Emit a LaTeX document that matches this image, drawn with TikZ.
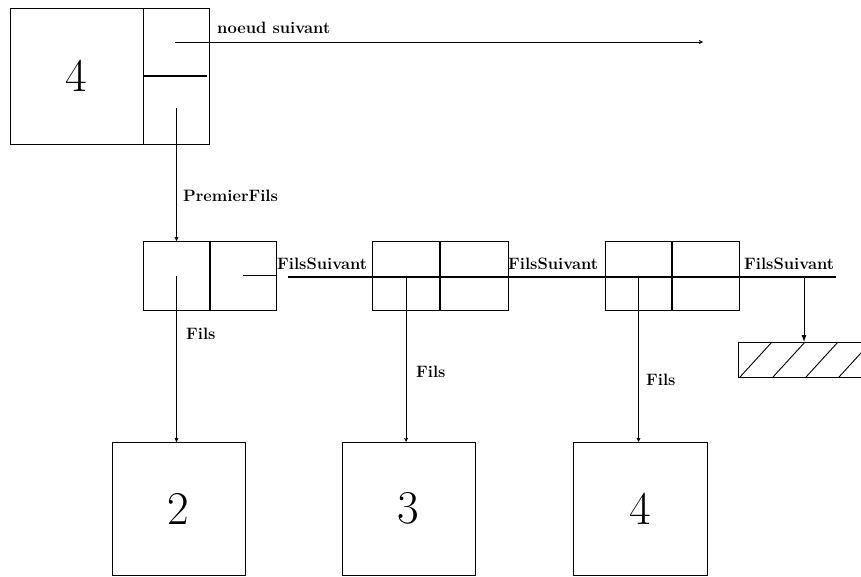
\documentclass[tikz,border=0pt]{standalone}
\usepackage{fontspec}
\usetikzlibrary{arrows.meta}
\tikzset{
  box/.style={draw, line width=0.9pt, inner sep=0pt, outer sep=0pt, anchor=north west},
  bignum/.style={font=\fontsize{47}{50}\selectfont},
  lbl/.style={font=\fontsize{16.5}{18}\selectfont\bfseries, inner sep=0pt, anchor=west},
  conn/.style={line width=0.9pt},
  smallarr/.style={conn, -{Straight Barb[length=3pt,width=3pt]}},
  bigarr/.style={conn, -{Latex[length=7pt,width=5pt]}},
  divider/.style={line width=1.7pt},
}
\begin{document}
\begin{tikzpicture}[x=1pt,y=-1pt]
\useasboundingbox (0,0) rectangle (861,576);
% head node
\node[box, minimum width=133pt, minimum height=136pt, bignum] (headval) at (10,8) {4};
\node[box, minimum width=66pt, minimum height=136pt] (headptr) at (143,8) {};
\draw[line width=2pt] (headptr.west) -- ([xshift=-2pt]headptr.east);
% child list cells
\node[box, minimum width=67pt, minimum height=69pt] (c1a) at (143,241) {};
\node[box, minimum width=66pt, minimum height=69pt] (c1b) at (210,241) {};
\draw[divider] (c1a.north east) -- (c1a.south east);
\node[box, minimum width=68pt, minimum height=69pt] (c2a) at (372,241) {};
\node[box, minimum width=68pt, minimum height=69pt] (c2b) at (440,241) {};
\draw[divider] (c2a.north east) -- (c2a.south east);
\node[box, minimum width=67pt, minimum height=69pt] (c3a) at (605,241) {};
\node[box, minimum width=67pt, minimum height=69pt] (c3b) at (672,241) {};
\draw[divider] (c3a.north east) -- (c3a.south east);
% value boxes
\node[box, minimum width=133pt, minimum height=133pt, bignum] (v2) at (112,442) {2};
\node[box, minimum width=133pt, minimum height=133pt, bignum] (v3) at (342,442) {3};
\node[box, minimum width=134pt, minimum height=133pt, bignum] (v4) at (573,442) {4};
% nil (hatched) box
\node[inner sep=0pt, outer sep=0pt, anchor=north west, minimum width=132pt, minimum height=35pt] (nil) at (738,342) {};
\draw[line width=0.9pt] (nil.north east) -- (nil.north west) -- (nil.south west) -- (nil.south east);
\begin{scope}
  \clip (nil.north west) rectangle (nil.south east);
  \foreach \k in {0,1,2,3} {
    \draw[line width=0.9pt] ([xshift={2pt+33pt*\k}]nil.south west) -- ([xshift={34pt+33pt*\k}]nil.north west);
  }
\end{scope}
% noeud suivant
\coordinate (nsS) at (175,42);
\coordinate (nsE) at (703,42);
\draw[smallarr] (nsS) -- (nsE);
\node[lbl] (lns) at (217,28) {noeud suivant};
% premier fils
\coordinate (pfS) at (176.5,108);
\draw[smallarr] (pfS) -- (c1a.north);
\node[lbl] (lpf) at (183,196) {PremierFils};
% fils pointers
\draw[smallarr] (c1a.center) -- (c1a.center |- v2.north);
\draw[smallarr] (c2a.center) -- (c2a.center |- v3.north);
\draw[smallarr] (c3a.center) -- (c3a.center |- v4.north);
\node[lbl] (lf1) at (186,334) {Fils};
\node[lbl] (lf2) at (416,372) {Fils};
\node[lbl] (lf3) at (646,380) {Fils};
% fils suivant chain
\draw[conn] (c1b.center) -- (c1b.east);
\coordinate (fsA) at (288,276.5);
\coordinate (fsB) at (836,276.5);
\draw[line width=2pt] (fsA) -- (fsB);
\coordinate (fsD) at (nil.north |- fsA);
\draw[bigarr] (fsD) -- (nil.north);
\node[lbl] (lfs1) at (277,264) {FilsSuivant};
\node[lbl] (lfs2) at (508,264) {FilsSuivant};
\node[lbl] (lfs3) at (744,264) {FilsSuivant};
\end{tikzpicture}
\end{document}
